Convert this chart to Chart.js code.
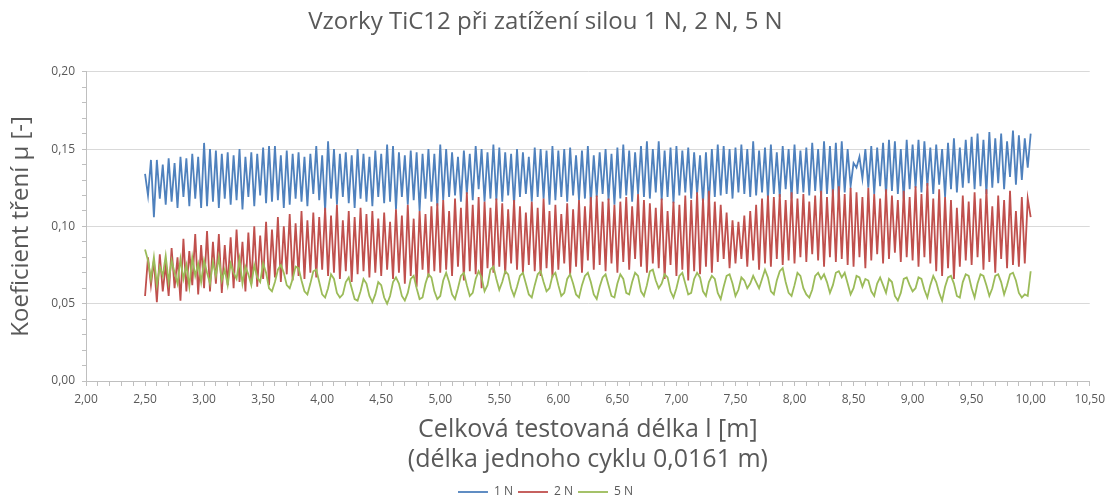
<!DOCTYPE html>
<html>
<head>
<meta charset="utf-8">
<script src="https://cdn.jsdelivr.net/npm/chart.js@4.4.1/dist/chart.umd.min.js"></script>
<style>
  body { margin: 0; background: #fff; }
  #wrap { width: 1111px; height: 497px; position: relative; }
</style>
</head>
<body>
<div id="wrap"><canvas id="chart"></canvas></div>
<script>
// sampling: starts at 2.5 m, one reading every 0.025 m, values in thousandths of mu
const startLength = 2.5;
const step = 0.025;

const load1N = [
  134,120,143,106,143,118,140,114,144,116,141,112,145,119,144,113,147,118,145,112,
  154,113,150,116,149,112,147,118,148,114,146,117,150,111,145,119,148,113,147,120,
  151,115,152,116,152,117,146,112,149,114,147,118,148,116,145,113,147,121,152,117,
  146,110,155,118,150,114,147,119,148,115,146,112,150,118,147,116,145,113,149,119,
  147,115,153,116,152,111,148,119,146,114,149,117,148,110,147,118,150,116,147,113,
  153,117,150,119,148,120,145,116,149,121,147,117,152,124,150,116,148,118,153,117,
  151,116,148,120,147,114,150,119,148,121,145,116,151,119,150,118,149,114,152,117,
  149,119,150,116,151,120,146,117,149,118,152,115,146,119,148,121,150,117,147,114,
  151,118,153,120,149,116,148,121,152,119,155,118,150,122,155,117,149,119,151,115,
  152,120,149,122,151,118,148,121,146,115,148,114,150,119,153,120,152,121,150,118,
  151,122,153,121,150,119,155,120,149,122,151,118,153,121,148,119,152,124,150,118,
  153,121,149,122,151,120,154,123,150,119,155,121,152,120,154,118,155,122,150,126,
  141,138,145,131,150,125,152,121,151,126,154,120,156,123,155,121,150,118,156,124,
  153,125,156,122,155,126,151,121,153,127,150,119,154,124,157,122,151,125,156,128,
  158,124,160,126,156,121,161,125,157,128,160,124,155,132,162,127,159,130,157,138,
  160
];

const load2N = [
  55,80,62,78,51,82,58,75,55,86,60,80,52,92,58,84,62,95,56,88,
  60,97,58,90,63,95,57,88,62,93,60,98,64,90,58,96,63,100,61,94,
  66,103,62,98,67,106,64,100,69,108,65,102,68,110,66,104,70,109,67,106,
  72,112,68,107,70,114,66,104,71,110,64,106,69,112,71,108,67,110,70,105,
  68,109,72,103,66,111,70,107,63,114,68,105,61,110,72,108,67,113,71,115,
  70,117,72,110,68,118,74,112,65,122,71,114,69,119,60,116,73,112,70,118,
  74,115,69,111,76,117,72,113,70,109,75,116,71,112,68,118,73,110,67,114,
  72,108,76,115,69,111,74,117,70,113,78,119,72,120,75,116,71,118,76,114,
  70,116,77,119,72,113,79,121,74,117,70,115,76,112,73,118,66,110,75,116,
  68,114,72,120,65,117,71,122,69,118,74,123,70,116,77,114,79,109,73,104,
  76,103,79,107,74,110,78,114,72,118,76,120,74,119,79,121,75,117,78,122,
  76,118,80,121,77,116,82,120,78,123,74,119,80,124,77,126,79,121,75,125,
  74,122,80,119,73,125,78,121,82,118,76,124,79,120,83,117,77,123,80,119,
  78,126,74,121,80,128,76,118,71,124,68,119,73,117,66,112,74,120,78,116,
  75,122,80,118,72,124,77,113,70,120,79,117,73,123,75,110,74,119,76,118,
  106
];

const load5N = [
  85,78,66,80,62,74,68,81,64,78,70,63,79,66,75,61,80,68,76,64,
  78,70,63,77,68,80,65,72,62,76,70,66,79,63,74,69,62,75,67,64,
  76,70,60,58,64,72,75,70,62,60,66,74,73,65,58,56,63,71,72,64,
  56,54,60,69,66,57,54,56,64,67,60,53,52,58,66,63,55,51,56,64,
  62,54,50,55,64,67,63,55,52,57,66,68,60,53,54,63,69,67,58,53,
  55,65,70,64,56,53,60,68,70,62,55,57,66,71,67,58,62,72,74,66,
  59,64,71,69,60,55,61,68,70,63,56,54,62,69,71,64,58,60,68,70,
  62,55,57,66,69,63,56,54,62,68,70,64,56,53,61,67,69,62,55,54,
  63,69,66,57,56,64,70,68,58,55,62,71,72,65,60,63,69,67,58,54,
  60,68,70,63,56,57,66,70,67,58,55,64,68,66,57,53,61,68,69,63,
  55,59,67,65,60,63,68,64,60,66,72,67,58,56,65,71,73,64,57,55,
  62,70,68,60,56,54,59,68,70,66,69,64,57,62,70,71,67,70,63,56,
  60,68,67,61,66,65,58,55,63,67,62,57,66,64,55,52,57,66,67,62,
  58,60,67,66,59,54,62,68,64,57,52,61,67,68,63,55,54,64,69,68,
  60,54,63,69,68,62,55,60,68,69,64,56,62,69,70,65,57,54,56,55,
  71
];

const seriesNames = ['1 N', '2 N', '5 N'];
const seriesColors = ['#4F81BD', '#C0504D', '#9BBB59'];

const toPoints = arr => arr.map((v, i) => ({ x: startLength + i * step, y: v / 1000 }));
const fmt = v => v.toFixed(2).replace('.', ',');
const isMult = (v, m) => Math.abs(v / m - Math.round(v / m)) < 1e-6;

Chart.defaults.font.family = "'Open Sans', 'Liberation Sans', sans-serif";
Chart.defaults.color = '#595959';

new Chart(document.getElementById('chart').getContext('2d'), {
  type: 'line',
  data: {
    datasets: [load1N, load2N, load5N].map((arr, i) => ({
      label: seriesNames[i],
      data: toPoints(arr),
      borderColor: seriesColors[i],
      backgroundColor: seriesColors[i],
      borderWidth: 1.8,
      pointRadius: 0,
      tension: 0,
      order: 3 - i
    }))
  },
  options: {
    responsive: true,
    maintainAspectRatio: false,
    animation: false,
    devicePixelRatio: 1,
    layout: { padding: { left: 0, right: 20, top: 0, bottom: -11 } },
    plugins: {
      title: {
        display: true,
        text: 'Vzorky TiC12 při zatížení silou 1 N, 2 N, 5 N',
        color: '#595959',
        font: { size: 24, weight: 'normal', lineHeight: 1.2 },
        padding: { top: 8, bottom: 35 }
      },
      legend: {
        position: 'bottom',
        labels: {
          usePointStyle: true,
          pointStyle: 'line',
          pointStyleWidth: 30,
          color: '#595959',
          font: { size: 12 },
          padding: 5,
          sort: (a, b) => a.datasetIndex - b.datasetIndex
        }
      },
      tooltip: { enabled: false }
    },
    scales: {
      x: {
        type: 'linear',
        min: 2,
        max: 10.5,
        afterFit: s => { s.height = 100; },
        border: { color: '#bfbfbf' },
        grid: { drawOnChartArea: false, tickLength: 5, tickColor: '#bfbfbf' },
        ticks: {
          stepSize: 0.1,
          autoSkip: false,
          maxRotation: 0,
          minRotation: 0,
          padding: 6,
          color: '#595959',
          font: { size: 12 },
          callback: v => isMult(v, 0.5) ? fmt(v) : ''
        },
        title: {
          display: true,
          text: ['Celková testovaná délka l [m]', '(délka jednoho cyklu 0,0161 m)'],
          color: '#595959',
          font: { size: 25, lineHeight: 1.2 },
          padding: { top: 0, bottom: 6 }
        }
      },
      y: {
        min: 0,
        max: 0.2,
        afterFit: s => { s.width = 86; },
        border: { color: '#bfbfbf' },
        grid: {
          color: c => (c.tick && isMult(c.tick.value, 0.05)) ? '#d9d9d9' : 'rgba(0,0,0,0)',
          tickColor: '#bfbfbf',
          tickLength: 4
        },
        ticks: {
          stepSize: 0.01,
          autoSkip: false,
          padding: 7,
          color: '#595959',
          font: { size: 12 },
          callback: v => isMult(v, 0.05) ? fmt(v) : ''
        },
        title: {
          display: true,
          text: 'Koeficient tření μ [-]',
          color: '#595959',
          font: { size: 24, lineHeight: 1.2 },
          padding: { top: 7, bottom: 0 }
        }
      }
    }
  }
});
</script>
</body>
</html>
